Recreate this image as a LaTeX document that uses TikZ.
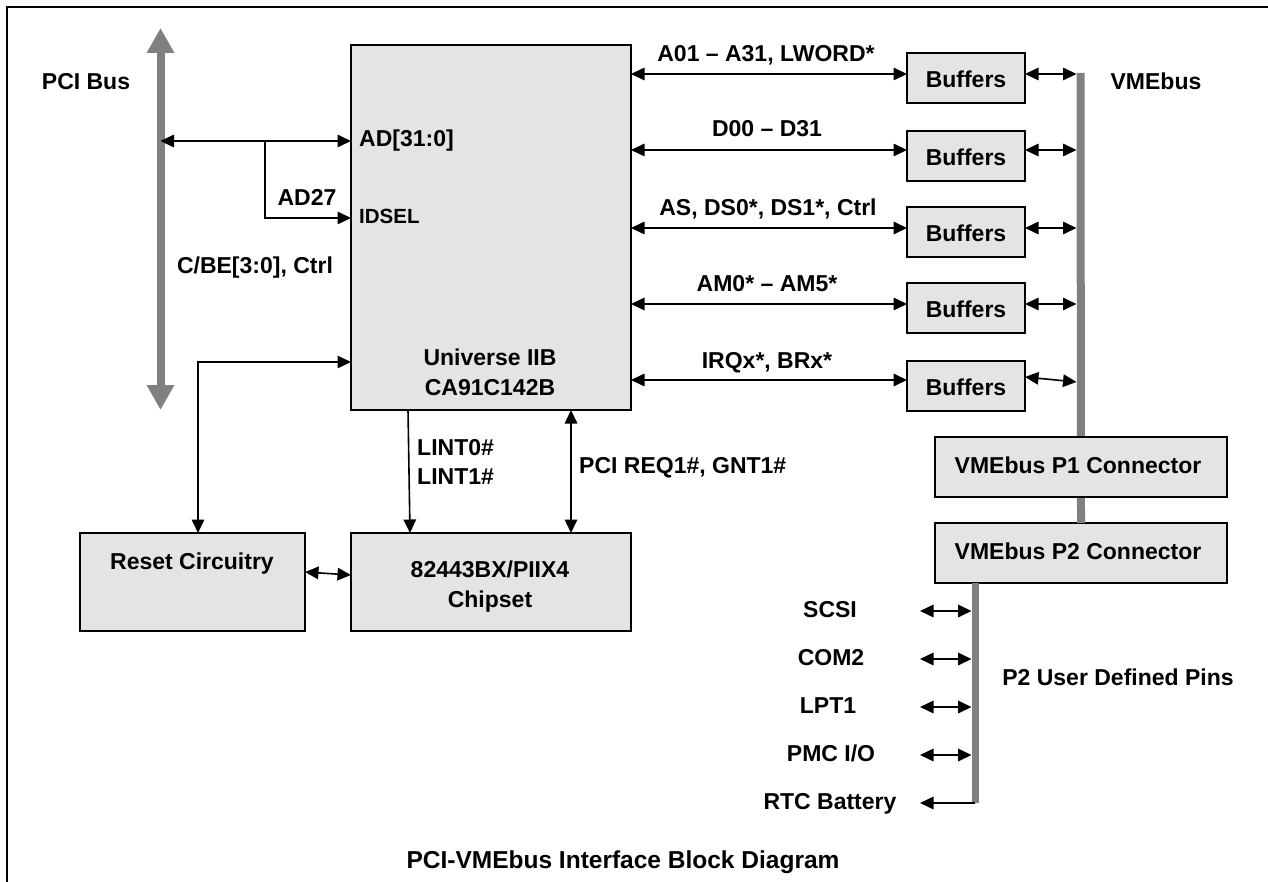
\documentclass[tikz,border=0pt]{standalone}
\usepackage{fontspec}
\setmainfont{Liberation Sans}
\usetikzlibrary{arrows.meta}
\definecolor{boxfill}{HTML}{E4E4E4}
\definecolor{busgray}{HTML}{808080}
\begin{document}
\begin{tikzpicture}[x=1pt,y=-1pt,
  >={Triangle[length=13.5pt 0 0,width=12.5pt 0 0]},
  box/.style={draw=black, line width=2pt, fill=boxfill, inner sep=0pt, outer sep=0pt},
  txt/.style={font=\fontsize{23}{28}\selectfont\bfseries, inner sep=0pt, text height=16.5pt, text depth=0pt},
  smalltxt/.style={font=\fontsize{20.5}{24}\selectfont\bfseries, inner sep=0pt, text height=14.7pt, text depth=0pt},
  titletxt/.style={font=\fontsize{24.5}{28}\selectfont\bfseries, inner sep=0pt, text height=17.5pt, text depth=0pt},
  conn/.style={line width=1.6pt, draw=black},
  bus/.style={line width=8pt, draw=busgray},
  bigtip/.style={{Triangle[length=25pt 0 0,width=26pt 0 0]}-{Triangle[length=25pt 0 0,width=26pt 0 0]}},
]
\useasboundingbox (0,0) rectangle (1268,882);
% frame
\coordinate (fbl) at (7,882);
\coordinate (ftl) at (7,7);
\coordinate (ftr) at (1268,7);
\draw[line width=2pt] (fbl) -- (ftl) -- (ftr);

% PCI bus
\coordinate (pcitop) at (160.5,28);
\coordinate (pcibot) at (160.5,410);
\draw[bus,bigtip] (pcitop) -- (pcibot);
\node[txt] (pcilbl) at (86,81) {PCI Bus};

% main boxes
\node[box, minimum width=280pt, minimum height=365pt] (univ) at (491,227.5) {};
\node[txt] (univ1) at (490,357) {Universe IIB};
\node[txt] (univ2) at (490,387) {CA91C142B};

\node[box, minimum width=225pt, minimum height=98pt] (reset) at (192.5,582) {};
\node[txt] (resetlbl) at (192,561) {Reset Circuitry};
\node[box, minimum width=280pt, minimum height=98pt] (chip) at (491,582) {};
\node[txt] (chip1) at (490,569) {82443BX/PIIX4};
\node[txt] (chip2) at (490,599) {Chipset};

% buffers
\foreach \i/\y in {1/78,2/156,3/232,4/308,5/386}{
  \node[box, minimum width=118pt, minimum height=50pt] (buf\i) at (966,\y) {};
  \node[txt] (buft\i) at (966,\y+1) {Buffers};
}

% VMEbus bar and connectors
\node[box, minimum width=292pt, minimum height=60pt] (p2) at (1081,553) {};
\coordinate (vmetop) at (1080.5,73);
\draw[bus] (vmetop) -- (p2.north);
\node[box, minimum width=292pt, minimum height=60pt] (p1) at (1081,467) {};
\node[txt] (p1lbl) at (1078,465) {VMEbus P1 Connector};
\node[txt] (p2lbl) at (1078,551) {VMEbus P2 Connector};
\node[txt] (vmelbl) at (1156,81) {VMEbus};
\coordinate (vmeL) at (1076.5,0);

% Universe <-> buffers
\foreach \i/\y in {1/74,2/150,3/228,4/304,5/380}{
  \draw[conn,<->] (univ.east |- 0,\y) -- (buf\i.west |- 0,\y);
}
\foreach \i/\y in {1/74,2/150,3/228,4/304}{
  \draw[conn,<->] (buf\i.east |- 0,\y) -- (vmeL |- 0,\y);
}
\draw[conn,<->] (buf5.east |- 0,377) -- (vmeL |- 0,382);

\node[txt] (l1) at (766,53) {A01 – A31, LWORD*};
\node[txt] (l2) at (767,128) {D00 – D31};
\node[txt] (l3) at (768,207) {AS, DS0*, DS1*, Ctrl};
\node[txt] (l4) at (767,283) {AM0* – AM5*};
\node[txt] (l5) at (767,360) {IRQx*, BRx*};

% PCI side connections
\draw[conn,<->] (pcitop |- 0,141) -- (univ.west |- 0,141);
\coordinate (brk) at (265,141);
\draw[conn,->] (brk) -- (265,218) -- (univ.west |- 0,218);
\node[txt, anchor=west] (adlbl) at (359,138) {AD[31:0]};
\node[txt] (ad27) at (307,197) {AD27};
\node[smalltxt, anchor=west] (idsel) at (359,216) {IDSEL};
\node[txt] (cbe) at (255,265) {C/BE[3:0], Ctrl};

% reset
\draw[conn,<->] (reset.north -| 198,0) -- (198,362) -- (univ.west |- 0,362);
\draw[conn,<->] (reset.east |- 0,572) -- (chip.west |- 0,575);

% LINT and REQ
\draw[conn,->] (univ.south -| 408,0) -- (chip.north -| 410,0);
\node[txt, anchor=west] (lint0) at (417,447) {LINT0\#};
\node[txt, anchor=west] (lint1) at (417,476) {LINT1\#};
\draw[conn,<->] (univ.south -| 571,0) -- (chip.north -| 571,0);
\node[txt, anchor=west] (req) at (579,465) {PCI REQ1\#, GNT1\#};

% P2 user defined pins
\coordinate (p2bot) at (975,803);
\draw[bus, line width=7pt] (p2.south -| p2bot) -- (p2bot);
\coordinate (pinL) at (920,0);
\coordinate (pinR) at (971.5,0);
\foreach \y in {611,659,707,755}{
  \draw[conn,<->] (pinL |- 0,\y) -- (pinR |- 0,\y);
}
\draw[conn,->] (p2bot) -- (pinL |- p2bot);
\node[txt] (scsi) at (830,609) {SCSI};
\node[txt] (com) at (831,657) {COM2};
\node[txt] (lpt) at (828,705) {LPT1};
\node[txt] (pmc) at (831,753) {PMC I/O};
\node[txt] (rtc) at (830,801) {RTC Battery};
\node[txt] (p2user) at (1118,677) {P2 User Defined Pins};

% title
\node[titletxt] (title) at (623,860) {PCI-VMEbus Interface Block Diagram};
\end{tikzpicture}
\end{document}
